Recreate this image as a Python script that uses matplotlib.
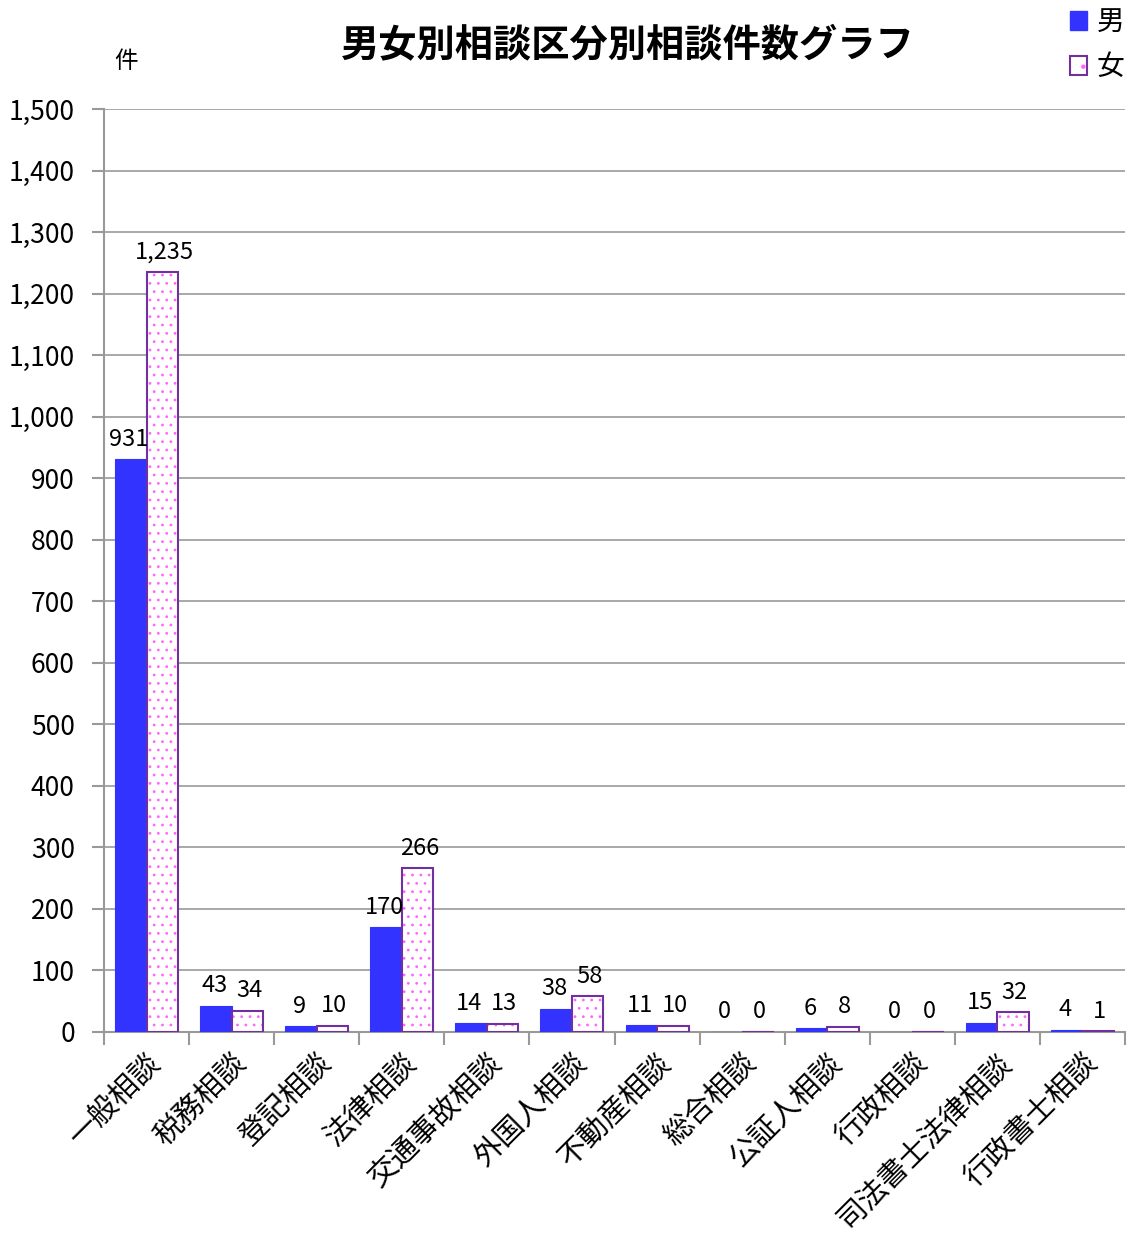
import matplotlib
matplotlib.use("Agg")
import matplotlib.pyplot as plt
import numpy as np
from matplotlib.ticker import FuncFormatter, MultipleLocator
from matplotlib.patches import Patch

plt.rcParams['font.family'] = ['Noto Sans CJK JP', 'DejaVu Sans']
plt.rcParams['hatch.linewidth'] = 0.8

categories = ['一般相談', '税務相談', '登記相談', '法律相談', '交通事故相談', '外国人相談',
              '不動産相談', '総合相談', '公証人相談', '行政相談', '司法書士法律相談', '行政書士相談']
male = [931, 43, 9, 170, 14, 38, 11, 0, 6, 0, 15, 4]
female = [1235, 34, 10, 266, 13, 58, 10, 0, 8, 0, 32, 1]

fig = plt.figure(figsize=(11.31, 12.36), dpi=100)
ax = fig.add_axes([104/1131, 1 - 1032/1236, (1125-104)/1131, (1032-109)/1236])

pink = matplotlib.colors.to_rgba('#ff66ff')
x = np.arange(len(categories))
w = 0.37
ax.bar(x - w/2, male, w, color='#3333ff', edgecolor='#3333ff', linewidth=0.8, zorder=3)
bf = ax.bar(x + w/2, female, w, facecolor='white', edgecolor='#7030a0', linewidth=1.5,
            hatch='..', zorder=3)
for b in bf:
    b._hatch_color = pink

for i in range(len(categories)):
    ax.text(x[i] - w/2 - 0.02, male[i] + 14, f'{male[i]:,}', ha='center', va='bottom', fontsize=17)
    ax.text(x[i] + w/2 + 0.02, female[i] + 14, f'{female[i]:,}', ha='center', va='bottom', fontsize=17)

ax.set_xlim(-0.5, len(categories) - 0.5)
ax.set_ylim(0, 1500)
ax.yaxis.set_major_locator(MultipleLocator(100))
ax.yaxis.set_major_formatter(FuncFormatter(lambda v, p: f'{int(v):,}'))
ax.grid(axis='y', color='#999999', linewidth=1.2, zorder=0)
for s in ['top', 'right']:
    ax.spines[s].set_visible(False)
for s in ['left', 'bottom']:
    ax.spines[s].set_color('#999999')
    ax.spines[s].set_linewidth(1.5)
ax.tick_params(axis='y', labelsize=19, length=9, color='#999999', width=1.5, pad=12)

ax.set_xticks(np.arange(len(categories) + 1) - 0.5, minor=False)
ax.set_xticklabels([])
ax.tick_params(axis='x', length=9, color='#999999', width=1.5)
ax.set_xticks(x, minor=True)
ax.set_xticklabels(categories, minor=True, rotation=45, ha='right', rotation_mode='anchor', fontsize=21)
ax.tick_params(axis='x', which='minor', length=0, pad=12)

fig.text(628/1131, 1 - 45/1236, '男女別相談区分別相談件数グラフ', ha='center', va='center',
         fontsize=27.5, fontweight='bold')
fig.text(126/1131, 1 - 62/1236, '件', ha='center', va='center', fontsize=17)

h1 = Patch(facecolor='#3333ff', edgecolor='#3333ff')
h2 = Patch(facecolor='white', edgecolor='#7030a0', hatch='.', linewidth=1.5)
h2._hatch_color = pink
fig.legend([h1, h2], ['男', '女'], loc='upper right', bbox_to_anchor=(1.0, 1.0),
           frameon=False, fontsize=20, handlelength=0.6, handleheight=0.7,
           handletextpad=0.35, labelspacing=0.55, borderaxespad=0.05, borderpad=0.2)

fig.savefig('out.png', dpi=100)
